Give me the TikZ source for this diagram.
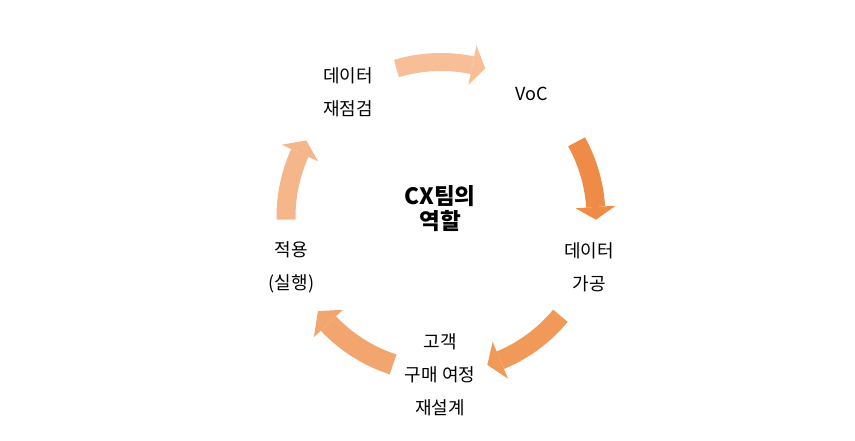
\documentclass[tikz,border=0pt]{standalone}
\usepackage{fontspec}
\setmainfont{Noto Sans CJK KR}
\usetikzlibrary{calc}
\definecolor{ca}{HTML}{F7BE97}
\definecolor{cb}{HTML}{EE8B46}
\definecolor{cc}{HTML}{F09959}
\definecolor{cd}{HTML}{F2A56F}
\definecolor{ce}{HTML}{F5B68A}
\newcommand\cxarc[5]{%
  \draw[line width=#5pt, #1] ($(O)+(#2:155)$) arc[start angle=#2, end angle=#3, radius=155];
  \fill[#1] ($(O)+(#3:135)$) -- ($(O)+(#4:155)$) -- ($(O)+(#3:175)$) -- cycle;
}
\begin{document}
\begin{tikzpicture}[x=1pt,y=1pt,
  lbl/.style={align=center, inner sep=0pt, font=\fontsize{18}{33}\selectfont},
  ctr/.style={align=center, inner sep=0pt, font=\bfseries\fontsize{22.5}{25}\selectfont}]
\path[use as bounding box] (0,0) rectangle (855,440);
\coordinate (O) at (441,223);
\cxarc{ca}{106.7}{78.3}{73.4}{18}
\cxarc{cb}{29}{3.7}{-1}{19}
\cxarc{cc}{-39.6}{-67.5}{-72.6}{19}
\cxarc{cd}{-108}{-136.6}{-142.6}{21}
\cxarc{ce}{181}{155.6}{150.4}{19}
\node[lbl] (n1) at (348,347.5) {데이터\\재점검};
\node[lbl] (n2) at (532,346.5) {VoC};
\node[lbl] (n3) at (589,173) {데이터\\가공};
\node[lbl] (n4) at (440,65.5) {고객\\구매 여정\\재설계};
\node[lbl] (n5) at (291.5,173) {적용\\(실행)};
\node[ctr] (c) at (440,231) {CX팀의\\역할};
\end{tikzpicture}
\end{document}
